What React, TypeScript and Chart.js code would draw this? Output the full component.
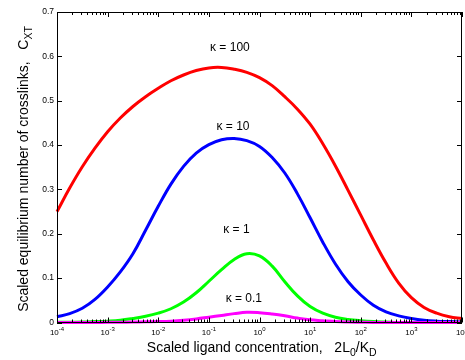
import React, { useEffect, useRef } from "react";
import { Chart, registerables } from "chart.js";

Chart.register(...registerables);

// Scaled ligand concentration 2L0/KD (quarter-decade sample positions)
const xValues = [
  1e-4, 1.78e-4, 3.16e-4, 5.62e-4, 1e-3, 1.78e-3, 3.16e-3, 5.62e-3, 1e-2, 1.78e-2, 3.16e-2, 5.62e-2,
  0.1, 0.178, 0.316, 0.562, 1, 1.78, 3.16, 5.62, 10, 17.8, 31.6, 56.2, 100, 178, 316, 562, 1000, 1780, 3160, 5620, 10000,
];

// Scaled equilibrium number of crosslinks C_XT
const kappa100 = [
  0.25, 0.303, 0.351, 0.393, 0.43, 0.461, 0.487, 0.509, 0.528, 0.545, 0.558, 0.568,
  0.574, 0.575, 0.571, 0.564, 0.552, 0.534, 0.509, 0.481, 0.447, 0.403, 0.353, 0.298,
  0.242, 0.186, 0.134, 0.089, 0.056, 0.034, 0.021, 0.013, 0.009,
];
const kappa10 = [
  0.013, 0.02, 0.032, 0.052, 0.08, 0.114, 0.155, 0.208, 0.262, 0.312, 0.352, 0.382,
  0.401, 0.412, 0.415, 0.41, 0.397, 0.372, 0.337, 0.29, 0.236, 0.181, 0.132, 0.092,
  0.062, 0.039, 0.024, 0.015, 0.009, 0.005, 0.003, 0.002, 0.001,
];
const kappa1 = [
  0.0005, 0.0008, 0.001, 0.002, 0.003, 0.005, 0.009, 0.014, 0.021, 0.031, 0.046, 0.067,
  0.093, 0.119, 0.142, 0.155, 0.15, 0.127, 0.092, 0.06, 0.036, 0.021, 0.012, 0.007,
  0.004, 0.002, 0.001, 0, 0, 0, 0, 0, 0,
];
const kappa01 = [
  0, 0, 0, 0, 0.0003, 0.0005, 0.001, 0.0015, 0.002, 0.003, 0.005, 0.008,
  0.012, 0.016, 0.02, 0.023, 0.022, 0.019, 0.015, 0.01, 0.006, 0.004, 0.002, 0.001,
  0.0005, 0, 0, 0, 0, 0, 0, 0, 0,
];

const seriesLabels = ["\u03ba = 100", "\u03ba = 10", "\u03ba = 1", "\u03ba = 0.1"];
const seriesColors = ["#ff0000", "#0000ff", "#00ff00", "#ff00ff"];
// annotation anchor (data coordinates) for each curve label
const labelX = [0.26, 0.3, 0.35, 0.49];
const labelY = [0.619, 0.441, 0.209, 0.054];

const xExponents = [-4, -3, -2, -1, 0, 1, 2, 3, 4];
const yTicks = [0, 0.1, 0.2, 0.3, 0.4, 0.5, 0.6, 0.7];

const FONT = "'Liberation Sans', Arial, Helvetica, sans-serif";

const decorPlugin = {
  id: "decor",
  afterDraw(chart: any) {
    const ctx = chart.ctx as CanvasRenderingContext2D;
    const { left, right, top, bottom } = chart.chartArea;
    const xs = chart.scales.x;
    const ys = chart.scales.y;
    ctx.save();
    ctx.strokeStyle = "#000";
    ctx.fillStyle = "#000";
    ctx.lineWidth = 1;
    ctx.strokeRect(Math.round(left) + 0.5, Math.round(top) + 0.5, Math.round(right - left) - 1, Math.round(bottom - top) - 1);
    ctx.beginPath();
    for (let e = -4; e <= 4; e++) {
      for (let m = 1; m <= 9; m++) {
        const v = m * Math.pow(10, e);
        if (v > 1e4 * 1.0001) break;
        const px = Math.round(xs.getPixelForValue(v)) + 0.5;
        const len = m === 1 ? 5 : 3;
        ctx.moveTo(px, bottom);
        ctx.lineTo(px, bottom - len);
        ctx.moveTo(px, top);
        ctx.lineTo(px, top + len);
      }
    }
    yTicks.forEach((t) => {
      const py = Math.round(ys.getPixelForValue(t)) + 0.5;
      ctx.moveTo(left, py);
      ctx.lineTo(left + 5, py);
      ctx.moveTo(right, py);
      ctx.lineTo(right - 5, py);
    });
    ctx.stroke();

    // x tick labels 10^n
    ctx.textBaseline = "alphabetic";
    ctx.textAlign = "left";
    xExponents.forEach((e) => {
      const px = xs.getPixelForValue(Math.pow(10, e));
      ctx.font = `8px ${FONT}`;
      const wb = ctx.measureText("10").width;
      ctx.font = `6px ${FONT}`;
      const expStr = String(e);
      const we = ctx.measureText(expStr).width;
      const start = px - (wb + we) / 2;
      ctx.font = `8px ${FONT}`;
      ctx.fillText("10", start, bottom + 12);
      ctx.font = `6px ${FONT}`;
      ctx.fillText(expStr, start + wb, bottom + 8);
    });

    const mainFont = `14px ${FONT}`;
    const subFont = `10.5px ${FONT}`;

    // x axis title with subscripts
    const xParts: [string, boolean][] = [["Scaled ligand concentration,   2L", false], ["0", true], ["/K", false], ["D", true]];
    let total = 0;
    xParts.forEach(([s, sub]) => {
      ctx.font = sub ? subFont : mainFont;
      total += ctx.measureText(s).width;
    });
    let cx = 261.7 - total / 2;
    xParts.forEach(([s, sub]) => {
      ctx.font = sub ? subFont : mainFont;
      ctx.fillText(s, cx, sub ? 356 : 352);
      cx += ctx.measureText(s).width;
    });

    // y axis title with subscript
    ctx.save();
    ctx.translate(28, 169);
    ctx.rotate(-Math.PI / 2);
    const yParts: [string, boolean][] = [["Scaled equilibrium number of crosslinks,   C", false], ["XT", true]];
    total = 0;
    yParts.forEach(([s, sub]) => {
      ctx.font = sub ? subFont : mainFont;
      total += ctx.measureText(s).width;
    });
    let cy = -total / 2;
    yParts.forEach(([s, sub]) => {
      ctx.font = sub ? subFont : mainFont;
      ctx.fillText(s, cy, sub ? 4 : 0);
      cy += ctx.measureText(s).width;
    });
    ctx.restore();

    // curve labels
    ctx.font = `12px ${FONT}`;
    ctx.textAlign = "center";
    ctx.textBaseline = "middle";
    seriesLabels.forEach((lab, i) => {
      ctx.fillText(lab, xs.getPixelForValue(labelX[i]), ys.getPixelForValue(labelY[i]));
    });
    ctx.restore();
  },
};

export default function App() {
  const ref = useRef<HTMLCanvasElement>(null);
  useEffect(() => {
    if (!ref.current) return;
    const series = [kappa100, kappa10, kappa1, kappa01];
    const datasets = series
      .map((arr, i) => ({
        label: seriesLabels[i],
        data: xValues.map((x, j) => ({ x, y: arr[j] })),
        borderColor: seriesColors[i],
        backgroundColor: seriesColors[i],
        borderWidth: 3,
        pointRadius: 0,
        fill: false,
        tension: 0.4,
        clip: 6,
      }))
      .reverse();
    const chart = new Chart(ref.current, {
      type: "line",
      data: { datasets },
      options: {
        animation: false,
        responsive: false,
        devicePixelRatio: 1,
        layout: { padding: { top: 12, right: 3, left: 0, bottom: 0 } },
        plugins: { legend: { display: false }, tooltip: { enabled: false } },
        scales: {
          x: {
            type: "logarithmic",
            min: 1e-4,
            max: 1e4,
            grid: { display: false },
            border: { display: false },
            ticks: { display: false },
            afterFit: (s: any) => {
              s.height = 37.5;
            },
          },
          y: {
            type: "linear",
            min: 0,
            max: 0.7,
            grid: { display: false, drawTicks: false },
            border: { display: false },
            ticks: {
              stepSize: 0.1,
              padding: 3,
              color: "#000",
              font: { size: 8.5, family: FONT },
              callback: (v: any) => (Number(v) === 0 ? "0" : Number(v).toFixed(1)),
            },
            afterFit: (s: any) => {
              s.width = 57;
            },
          },
        },
      },
      plugins: [decorPlugin],
    });
    return () => chart.destroy();
  }, []);
  return (
    <div style={{ position: "fixed", left: 0, top: 0, width: 465, height: 360, background: "#fff" }}>
      <canvas ref={ref} width={465} height={360} />
    </div>
  );
}
